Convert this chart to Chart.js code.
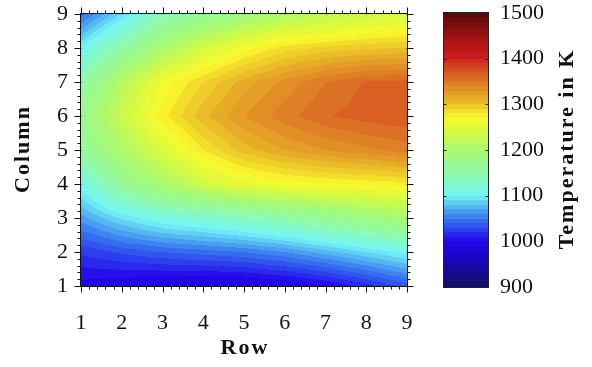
<!DOCTYPE html>
<html><head><meta charset="utf-8">
<script src="https://cdn.jsdelivr.net/npm/chart.js@4.4.1/dist/chart.umd.min.js"></script>
<style>
html,body{margin:0;padding:0;background:#fff;}
#wrap{position:relative;width:592px;height:367px;overflow:hidden;background:#fff;}
#main{position:absolute;left:0;top:0;}
#cbar{position:absolute;left:443px;top:0;}
</style></head><body>
<div id="wrap">
<canvas id="main" width="420" height="367"></canvas>
<canvas id="cbar" width="149" height="367"></canvas>
</div>
<script>
// ---- data ----
const rows = [1, 2, 3, 4, 5, 6, 7, 8, 9];          // x axis ("Row")
const columns = [1, 2, 3, 4, 5, 6, 7, 8, 9];       // y axis ("Column")
// temperature (K) for each Column, listed for Row 1..9
const tempColumn1 = [995, 990, 985, 982, 983, 988, 998, 1015, 1035];
const tempColumn2 = [1022, 1032, 1040, 1045, 1050, 1060, 1075, 1090, 1105];
const tempColumn3 = [1065, 1092, 1112, 1122, 1135, 1150, 1165, 1183, 1200];
const tempColumn4 = [1108, 1165, 1200, 1235, 1255, 1265, 1270, 1273, 1276];
const tempColumn5 = [1160, 1205, 1245, 1280, 1305, 1320, 1330, 1338, 1345];
const tempColumn6 = [1175, 1230, 1276, 1307, 1330, 1346, 1359, 1365, 1368];
const tempColumn7 = [1150, 1212, 1262, 1290, 1315, 1333, 1350, 1361, 1363];
const tempColumn8 = [1100, 1152, 1200, 1238, 1265, 1285, 1293, 1298, 1301];
const tempColumn9 = [1045, 1090, 1140, 1165, 1185, 1207, 1220, 1232, 1240];
const tempGrid = [tempColumn1, tempColumn2, tempColumn3, tempColumn4, tempColumn5,
                  tempColumn6, tempColumn7, tempColumn8, tempColumn9];
const axisTicks = [1, 2, 3, 4, 5, 6, 7, 8, 9];
const colorbarTicks = [900, 1000, 1100, 1200, 1300, 1400, 1500];
const contourStep = 10;   // K per filled contour band
const xTitle = 'Row', yTitle = 'Column', barTitle = 'Temperature in K';

// ---- colour map (jet-like) ----
const cmapStops = [
  [900, 20, 15, 95], [960, 25, 5, 190], [1000, 35, 5, 235], [1050, 55, 120, 240],
  [1100, 115, 245, 245], [1150, 145, 250, 170], [1200, 168, 250, 112], [1240, 215, 250, 65],
  [1270, 250, 250, 45], [1300, 235, 195, 40], [1350, 222, 120, 38], [1380, 212, 70, 30],
  [1405, 202, 28, 28], [1440, 170, 20, 20], [1500, 85, 10, 10]
];
function cmap(v) {
  if (v <= cmapStops[0][0]) return cmapStops[0].slice(1);
  for (let i = 1; i < cmapStops.length; i++) {
    const a = cmapStops[i - 1], b = cmapStops[i];
    if (v <= b[0]) {
      const t = (v - a[0]) / (b[0] - a[0]);
      return [a[1] + t * (b[1] - a[1]), a[2] + t * (b[2] - a[2]), a[3] + t * (b[3] - a[3])];
    }
  }
  return cmapStops[cmapStops.length - 1].slice(1);
}
const cMin = colorbarTicks[0], cMax = colorbarTicks[colorbarTicks.length - 1];
function bandColor(v) {
  const k = Math.floor((v - cMin) / contourStep);
  return cmap(cMin + (k + 0.5) * contourStep);
}

const points = [];
columns.forEach((c, j) => rows.forEach((r, i) => points.push({x: r, y: c, v: tempGrid[j][i]})));

const FONT = "'Liberation Serif', 'Times New Roman', serif";
const tickFont = {family: FONT, size: 22};
const TITLE_FONT = `bold 22px ${FONT}`;
const plain = v => String(v);
const noPad = s => { s.paddingLeft = 0; s.paddingRight = 0; s.paddingTop = 0; s.paddingBottom = 0; };

function drawTitle(ctx, text, x, y, rot) {
  ctx.save();
  ctx.translate(x, y);
  if (rot) ctx.rotate(rot);
  ctx.font = TITLE_FONT;
  if ('letterSpacing' in ctx) ctx.letterSpacing = '2px';
  ctx.fillStyle = '#111';
  ctx.textAlign = 'center';
  ctx.textBaseline = 'middle';
  ctx.fillText(text, 1, 0);
  ctx.restore();
}

function sampleGrid(r, c) {
  let i = Math.floor(r - rows[0]); i = Math.max(0, Math.min(rows.length - 2, i));
  let j = Math.floor(c - columns[0]); j = Math.max(0, Math.min(columns.length - 2, j));
  const fx = (r - rows[i]) / (rows[i + 1] - rows[i]);
  const fy = (c - columns[j]) / (columns[j + 1] - columns[j]);
  const v00 = tempGrid[j][i], v10 = tempGrid[j][i + 1], v01 = tempGrid[j + 1][i], v11 = tempGrid[j + 1][i + 1];
  return v00 * (1 - fx) * (1 - fy) + v10 * fx * (1 - fy) + v01 * (1 - fx) * fy + v11 * fx * fy;
}

const contourPlugin = {
  id: 'contour',
  beforeDatasetsDraw(chart) {
    const {ctx, chartArea: a, scales: {x, y}} = chart;
    const w = Math.round(a.right - a.left), h = Math.round(a.bottom - a.top);
    const off = document.createElement('canvas');
    off.width = w; off.height = h;
    const octx = off.getContext('2d');
    const img = octx.createImageData(w, h);
    for (let py = 0; py < h; py++) {
      const c = y.getValueForPixel(a.top + py + 0.5);
      for (let px = 0; px < w; px++) {
        const r = x.getValueForPixel(a.left + px + 0.5);
        const col = bandColor(sampleGrid(r, c));
        const o = (py * w + px) * 4;
        img.data[o] = col[0]; img.data[o + 1] = col[1]; img.data[o + 2] = col[2]; img.data[o + 3] = 255;
      }
    }
    octx.putImageData(img, 0, 0);
    ctx.drawImage(off, Math.round(a.left), Math.round(a.top));
  },
  afterDraw(chart) {
    const {ctx, chartArea: a, scales: {x, y}} = chart;
    ctx.save();
    ctx.strokeStyle = '#111';
    ctx.lineWidth = 1;
    const L = Math.round(a.left) - 0.5, R = Math.round(a.right) + 0.5;
    const T = Math.round(a.top) - 0.5, B = Math.round(a.bottom) + 0.5;
    ctx.strokeRect(L, T, R - L, B - T);
    ctx.beginPath();
    for (let i = 0; i < axisTicks.length; i++) {
      const v0 = axisTicks[i];
      for (let m = 0; m < 5; m++) {
        const v = v0 + m * 0.2;
        if (v > axisTicks[axisTicks.length - 1] + 1e-6) break;
        const major = m === 0;
        const out = major ? 6 : 3, inn = major ? 1 : 0;
        const px = Math.round(x.getPixelForValue(v)) + 0.5;
        ctx.moveTo(px, B - inn); ctx.lineTo(px, B + out);
        ctx.moveTo(px, T + inn); ctx.lineTo(px, T - out);
        const py = Math.round(y.getPixelForValue(v)) + 0.5;
        ctx.moveTo(L + inn, py); ctx.lineTo(L - out, py);
        ctx.moveTo(R - inn, py); ctx.lineTo(R + out, py);
      }
    }
    ctx.stroke();
    ctx.restore();
    drawTitle(ctx, xTitle, (a.left + a.right) / 2, 348, 0);
    drawTitle(ctx, yTitle, 23, (a.top + a.bottom) / 2, -Math.PI / 2);
  }
};

new Chart(document.getElementById('main'), {
  type: 'scatter',
  data: {datasets: [{data: points, pointRadius: 0, pointHoverRadius: 0, showLine: false}]},
  options: {
    responsive: false, animation: false, devicePixelRatio: 1,
    layout: {padding: {top: 14, right: 13, left: 0, bottom: 0}},
    plugins: {legend: {display: false}, tooltip: {enabled: false}},
    events: [],
    scales: {
      x: {
        type: 'linear', min: 1, max: 9,
        afterBuildTicks: s => { s.ticks = axisTicks.map(v => ({value: v})); },
        afterFit: s => { s.height = 81; noPad(s); },
        grid: {display: false, drawTicks: false}, border: {display: false},
        ticks: {font: tickFont, color: '#111', padding: 24, maxRotation: 0, callback: plain}
      },
      y: {
        type: 'linear', min: 1, max: 9,
        afterBuildTicks: s => { s.ticks = axisTicks.map(v => ({value: v})); },
        afterFit: s => { s.width = 81; noPad(s); },
        grid: {display: false, drawTicks: false}, border: {display: false},
        ticks: {font: tickFont, color: '#111', padding: 13, callback: plain}
      }
    }
  },
  plugins: [contourPlugin]
});

// ---- colour bar ----
const barLevels = [];
for (let v = cMin; v < cMax; v += contourStep) barLevels.push(v);

const colorbarPlugin = {
  id: 'colorbar',
  beforeDatasetsDraw(chart) {
    const {ctx, chartArea: a, scales: {y}} = chart;
    ctx.save();
    barLevels.forEach(v => {
      const y0 = Math.round(y.getPixelForValue(v + contourStep));
      const y1 = Math.round(y.getPixelForValue(v));
      const col = cmap(v + contourStep / 2);
      ctx.fillStyle = `rgb(${col[0] | 0},${col[1] | 0},${col[2] | 0})`;
      ctx.fillRect(a.left, y0, a.right - a.left, y1 - y0);
    });
    ctx.restore();
  },
  afterDraw(chart) {
    const {ctx, chartArea: a, scales: {y}} = chart;
    ctx.save();
    ctx.strokeStyle = '#222';
    ctx.lineWidth = 1;
    const L = Math.round(a.left) + 0.5, R = Math.round(a.right) - 0.5;
    const T = Math.round(a.top) - 0.5, B = Math.round(a.bottom) + 0.5;
    ctx.strokeRect(L, T, R - L, B - T);
    ctx.beginPath();
    colorbarTicks.slice(1, -1).forEach(v => {
      const py = Math.round(y.getPixelForValue(v)) + 0.5;
      ctx.moveTo(L, py); ctx.lineTo(L + 3, py);
      ctx.moveTo(R, py); ctx.lineTo(R - 3, py);
    });
    ctx.stroke();
    ctx.restore();
    drawTitle(ctx, barTitle, 124, (a.top + a.bottom) / 2, -Math.PI / 2);
  }
};

new Chart(document.getElementById('cbar'), {
  type: 'scatter',
  data: {datasets: [{data: barLevels.map(v => ({x: 0, y: v})), pointRadius: 0, pointHoverRadius: 0}]},
  options: {
    responsive: false, animation: false, devicePixelRatio: 1,
    layout: {padding: {top: 13, bottom: 80, left: 0, right: 0}},
    plugins: {legend: {display: false}, tooltip: {enabled: false}},
    events: [],
    scales: {
      x: {type: 'linear', display: false, min: -1, max: 1},
      y: {
        type: 'linear', position: 'right', min: cMin, max: cMax,
        afterBuildTicks: s => { s.ticks = colorbarTicks.map(v => ({value: v})); },
        afterFit: s => { s.width = 103; noPad(s); },
        grid: {display: false, drawTicks: false}, border: {display: false},
        ticks: {font: tickFont, color: '#111', padding: 11, callback: plain}
      }
    }
  },
  plugins: [colorbarPlugin]
});
</script>
</body></html>
